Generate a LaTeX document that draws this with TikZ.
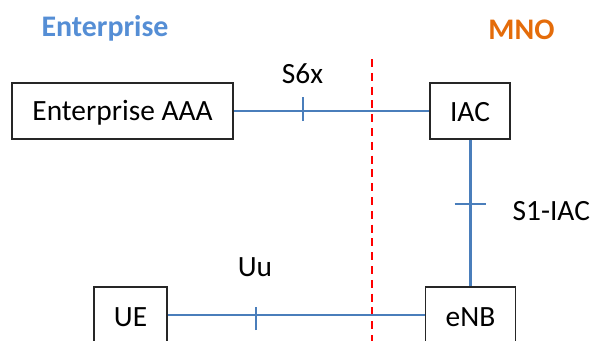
\documentclass[tikz,border=0pt]{standalone}
\usepackage{fontspec}
\setmainfont{Carlito}
\definecolor{linkblue}{HTML}{4A7EBB}
\definecolor{domblue}{HTML}{558ED5}
\definecolor{domorange}{HTML}{E46C0A}
\definecolor{boxedge}{HTML}{262626}
\begin{document}
\begin{tikzpicture}[x=1bp,y=-1bp,
  entity/.style={draw=boxedge,line width=1.5bp,minimum height=56bp,inner sep=0pt},
  linkline/.style={draw=linkblue,line width=2.2bp},
  tickmark/.style={draw=linkblue,line width=2.2bp},
  iflabel/.style={font=\fontsize{29.5}{34}\selectfont,anchor=base},
  domlabel/.style={font=\bfseries\fontsize{30}{34}\selectfont,anchor=base}]
\useasboundingbox (0,0) rectangle (591,340);
\clip (0,0) rectangle (591,340);

% network elements
\node[entity,minimum width=221bp] (aaa) at (122.5,111) {};
\node[iflabel] at (122.5,120.7) {Enterprise AAA};
\node[entity,minimum width=80bp] (iac) at (470,111) {};
\node[iflabel] at (470,121.5) {IAC};
\node[entity,minimum width=73bp] (ue) at (130.5,315) {};
\node[iflabel] at (130.5,326) {UE};
\node[entity,minimum width=90bp] (enb) at (470.5,315) {};
\node[iflabel] at (470.5,326) {eNB};

% domain boundary
\coordinate (bt) at (372.3,59);
\coordinate (bb) at (372.3,345);
\draw[red,line width=2bp,dash pattern=on 8bp off 5.8bp] (bt) -- (bb);

% reference points
\draw[linkline] (aaa.east) -- coordinate[pos=0.354] (s6x) (iac.west);
\draw[linkline] (iac.south -| enb.north) -- coordinate[pos=0.44] (s1) (enb.north);
\draw[linkline] (ue.east) -- coordinate[pos=0.343] (uu) (enb.west);
\draw[tickmark] ([yshift=-10bp]s6x) -- ([yshift=14bp]s6x);
\draw[tickmark] ([xshift=-16bp]s1) -- ([xshift=15bp]s1);
\draw[tickmark] ([yshift=-15bp]uu) -- ([yshift=8bp]uu);

% labels
\node[iflabel] (s6xlabel) at (302.5,83.3) {S6x};
\node[iflabel] (s1label) at (551.3,220) {S1-IAC};
\node[iflabel] (uulabel) at (255,276.7) {Uu};
\node[domlabel,text=domblue] (ent) at (105,36.7) {Enterprise};
\node[domlabel,text=domorange] (mno) at (521.5,39.3) {MNO};
\end{tikzpicture}
\end{document}
